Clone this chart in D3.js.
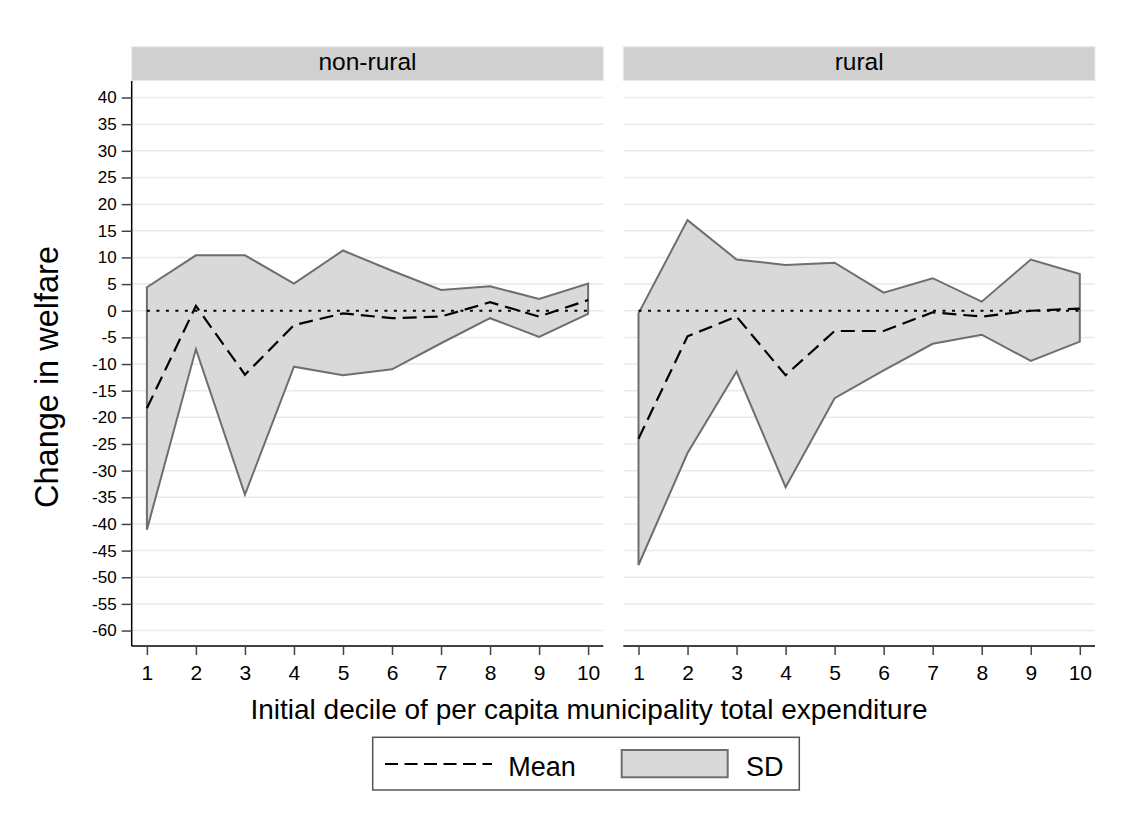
<html>
<head>
  <meta charset="utf-8">
  <style>
    body { margin: 0; background: #fff; }
    svg text { font-family: "Liberation Sans", Arial, sans-serif; fill: #000; }
    .grid line { stroke: #e9e9e9; stroke-width: 1.5px; }
    .band { fill: #d9d9d9; stroke: #6e6e6e; stroke-width: 2px; }
    .mean { fill: none; stroke: #000; stroke-width: 2.2px; stroke-dasharray: 14,7; }
    .zero { stroke: #000; stroke-width: 2px; stroke-dasharray: 3,6.5; }
    .axis path { stroke: #000; stroke-width: 1.5px; }
    .axis line { stroke: #444; stroke-width: 1.5px; }
  </style>
</head>
<body>
<div id="chart"></div>
<script src="https://d3js.org/d3.v7.min.js"></script>
<script>
  var deciles   = [1, 2, 3, 4, 5, 6, 7, 8, 9, 10];
  var panels    = ['non-rural', 'rural'];
  var yTicks    = [-60, -55, -50, -45, -40, -35, -30, -25, -20, -15, -10, -5, 0, 5, 10, 15, 20, 25, 30, 35, 40];

  var nonRuralMean  = [-18.3, 0.9, -12.0, -2.7, -0.5, -1.4, -1.1, 1.6, -1.1, 2.0];
  var nonRuralUpper = [4.4, 10.4, 10.4, 5.1, 11.3, 7.5, 3.9, 4.6, 2.2, 5.1];
  var nonRuralLower = [-41.1, -7.2, -34.5, -10.5, -12.1, -11.0, -6.1, -1.4, -4.9, -0.6];

  var ruralMean  = [-24.0, -4.8, -1.1, -12.1, -3.8, -3.8, -0.3, -1.1, 0.0, 0.4];
  var ruralUpper = [-0.5, 17.0, 9.6, 8.6, 9.0, 3.4, 6.1, 1.7, 9.6, 6.9];
  var ruralLower = [-47.7, -26.7, -11.4, -33.1, -16.4, -11.2, -6.2, -4.5, -9.4, -5.8];

  (function () {
    var series = [
      { mean: nonRuralMean, upper: nonRuralUpper, lower: nonRuralLower },
      { mean: ruralMean,    upper: ruralUpper,    lower: ruralLower }
    ];

    var width = 1128, height = 825;
    var plotTop = 81, plotBottom = 646;
    var panelX = [[131.7, 603.3], [623.3, 1095]];

    var svg = d3.select('#chart').append('svg')
      .attr('width', width)
      .attr('height', height);

    var yScale = d3.scaleLinear()
      .domain([-62.9, 43.1])
      .range([plotBottom, plotTop]);

    panels.forEach(function (name, p) {
      var xScale = d3.scaleLinear()
        .domain([0.69, 10.31])
        .range(panelX[p]);
      var x0 = panelX[p][0], x1 = panelX[p][1];
      var s = series[p];
      var rows = deciles.map(function (d, i) {
        return { dec: d, mean: s.mean[i], upper: s.upper[i], lower: s.lower[i] };
      });

      var g = svg.append('g');

      // strip with panel title
      g.append('rect')
        .attr('x', x0).attr('y', 46.7)
        .attr('width', x1 - x0).attr('height', 34)
        .attr('fill', '#d0d0d0')
        .attr('stroke', '#e4ecf2').attr('stroke-width', 1);
      g.append('text')
        .attr('x', (x0 + x1) / 2).attr('y', 70)
        .attr('text-anchor', 'middle')
        .style('font-size', '24.5px')
        .text(name);

      // horizontal gridlines
      g.append('g').attr('class', 'grid')
        .selectAll('line').data(yTicks).enter().append('line')
        .attr('x1', x0).attr('x2', x1)
        .attr('y1', function (d) { return yScale(d); })
        .attr('y2', function (d) { return yScale(d); });

      // SD band
      var area = d3.area()
        .x(function (d) { return xScale(d.dec); })
        .y0(function (d) { return yScale(d.lower); })
        .y1(function (d) { return yScale(d.upper); });
      g.append('path')
        .datum(rows)
        .attr('class', 'band')
        .attr('d', function (d) { return area(d) + 'Z'; });

      // zero reference
      g.append('line')
        .attr('class', 'zero')
        .attr('x1', xScale(1)).attr('x2', xScale(10))
        .attr('y1', yScale(0)).attr('y2', yScale(0));

      // mean
      var line = d3.line()
        .x(function (d) { return xScale(d.dec); })
        .y(function (d) { return yScale(d.mean); });
      g.append('path')
        .datum(rows)
        .attr('class', 'mean')
        .attr('d', line);

      // x axis
      var xAxis = g.append('g')
        .attr('class', 'axis')
        .attr('transform', 'translate(0,' + plotBottom + ')')
        .call(d3.axisBottom(xScale).tickValues(deciles).tickSize(9).tickSizeOuter(0).tickPadding(10));
      xAxis.attr('font-size', null).attr('font-family', null);
      xAxis.selectAll('text').style('font-size', '21px').attr('dy', '0.71em');
      xAxis.select('.domain').attr('d', 'M' + x0 + ',0H' + x1);

      // y axis only on the first panel
      if (p === 0) {
        var yAxis = g.append('g')
          .attr('class', 'axis')
          .attr('transform', 'translate(' + x0 + ',0)')
          .call(d3.axisLeft(yScale).tickValues(yTicks).tickSize(10).tickSizeOuter(0).tickPadding(5)
            .tickFormat(function (d) { return String(d); }));
        yAxis.attr('font-size', null).attr('font-family', null);
        yAxis.selectAll('text').style('font-size', '17px');
        yAxis.select('.domain').attr('d', 'M0,' + plotTop + 'V' + plotBottom);
      }
    });

    // axis titles
    svg.append('text')
      .attr('transform', 'translate(58,377) rotate(-90)')
      .attr('text-anchor', 'middle')
      .style('font-size', '32.5px')
      .text('Change in welfare');

    svg.append('text')
      .attr('x', 589).attr('y', 719)
      .attr('text-anchor', 'middle')
      .style('font-size', '28px')
      .text('Initial decile of per capita municipality total expenditure');

    // legend
    var legend = svg.append('g');
    legend.append('rect')
      .attr('x', 372.7).attr('y', 737.3)
      .attr('width', 426.6).attr('height', 52.7)
      .attr('fill', '#fff')
      .attr('stroke', '#555').attr('stroke-width', 1.5);
    legend.append('line')
      .attr('x1', 385).attr('x2', 492)
      .attr('y1', 764).attr('y2', 764)
      .attr('stroke', '#000').attr('stroke-width', 2)
      .attr('stroke-dasharray', '13,6.5');
    legend.append('text')
      .attr('x', 508.3).attr('y', 776)
      .style('font-size', '27px')
      .text('Mean');
    legend.append('rect')
      .attr('class', 'band')
      .attr('x', 621.7).attr('y', 750)
      .attr('width', 106).attr('height', 27.3);
    legend.append('text')
      .attr('x', 746).attr('y', 776)
      .style('font-size', '27px')
      .text('SD');
  })();
</script>
</body>
</html>
